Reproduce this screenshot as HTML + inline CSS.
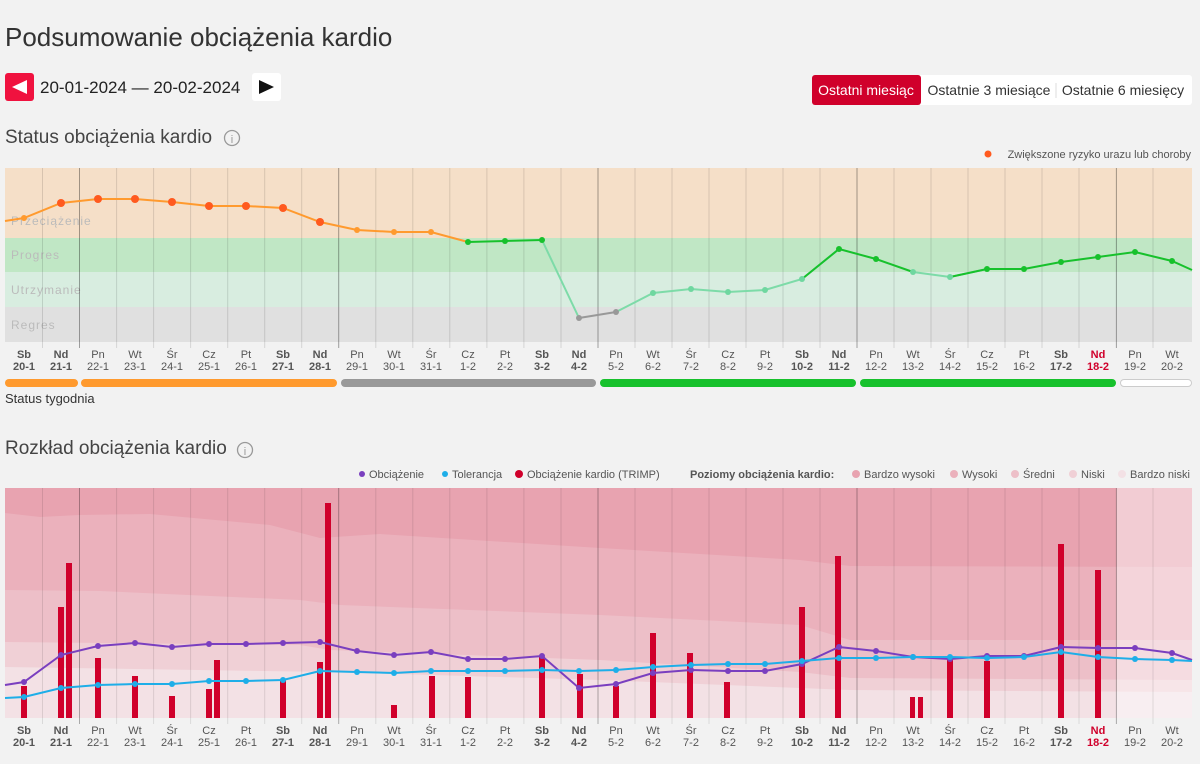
<!DOCTYPE html>
<html><head><meta charset="utf-8"><style>
body{margin:0;background:#f2f2f2;width:1200px;height:764px;overflow:hidden;font-family:"Liberation Sans",sans-serif;}
svg{position:absolute;left:0;top:0}
</style></head><body>
<svg width="1200" height="764" xmlns="http://www.w3.org/2000/svg" font-family="Liberation Sans, sans-serif">
<text x="5" y="46" font-size="26" fill="#333">Podsumowanie obciążenia kardio</text>
<rect x="5" y="73" width="29" height="28" rx="3" fill="#f0123f"/>
<polygon points="12,87 27,80 27,94" fill="#fff"/>
<text x="40" y="93" font-size="17" fill="#222">20-01-2024 — 20-02-2024</text>
<rect x="252" y="73" width="29" height="28" rx="3" fill="#fff"/>
<polygon points="259,80 274,87 259,94" fill="#111"/>
<rect x="812" y="75" width="380" height="30" rx="3" fill="#fff"/>
<rect x="812" y="75" width="109" height="30" rx="3" fill="#d0002b"/>
<text x="866" y="95" font-size="14" fill="#fff" text-anchor="middle">Ostatni miesiąc</text>
<text x="989" y="95" font-size="14" fill="#333" text-anchor="middle">Ostatnie 3 miesiące</text>
<line x1="1056" y1="83" x2="1056" y2="98" stroke="#ddd"/>
<text x="1123" y="95" font-size="14" fill="#333" text-anchor="middle">Ostatnie 6 miesięcy</text>
<text x="5" y="143" font-size="19" fill="#444">Status obciążenia kardio</text>
<circle cx="232" cy="138" r="7.5" fill="none" stroke="#999" stroke-width="1.3"/><text x="232" y="143" font-size="11" fill="#999" text-anchor="middle">i</text>
<circle cx="988" cy="154" r="3.5" fill="#ff5a1f"/>
<text x="1191" y="158" font-size="11" fill="#555" text-anchor="end">Zwiększone ryzyko urazu lub choroby</text>

<!-- top chart -->
<rect x="5" y="168" width="1187" height="70" fill="#f5dfc8"/>
<rect x="5" y="238" width="1187" height="34" fill="#c0e7c5"/>
<rect x="5" y="272" width="1187" height="35" fill="#d8ede0"/>
<rect x="5" y="307" width="1187" height="35" fill="#e0e0e0"/>
<g font-size="12" fill="#bbb" letter-spacing="1"><text x="11" y="225">Przeciążenie</text><text x="11" y="259">Progres</text><text x="11" y="294">Utrzymanie</text><text x="11" y="329">Regres</text></g>
<g id="gt" stroke="#000" stroke-opacity="0.12">
<line x1="42.5" y1="168" x2="42.5" y2="348"/><line x1="116.6" y1="168" x2="116.6" y2="348"/><line x1="153.6" y1="168" x2="153.6" y2="348"/><line x1="190.6" y1="168" x2="190.6" y2="348"/><line x1="227.7" y1="168" x2="227.7" y2="348"/><line x1="264.7" y1="168" x2="264.7" y2="348"/><line x1="301.7" y1="168" x2="301.7" y2="348"/><line x1="375.8" y1="168" x2="375.8" y2="348"/><line x1="412.8" y1="168" x2="412.8" y2="348"/><line x1="449.8" y1="168" x2="449.8" y2="348"/><line x1="486.9" y1="168" x2="486.9" y2="348"/><line x1="523.9" y1="168" x2="523.9" y2="348"/><line x1="561" y1="168" x2="561" y2="348"/><line x1="635" y1="168" x2="635" y2="348"/><line x1="672" y1="168" x2="672" y2="348"/><line x1="709" y1="168" x2="709" y2="348"/><line x1="746" y1="168" x2="746" y2="348"/><line x1="783" y1="168" x2="783" y2="348"/><line x1="820" y1="168" x2="820" y2="348"/><line x1="894" y1="168" x2="894" y2="348"/><line x1="931" y1="168" x2="931" y2="348"/><line x1="968" y1="168" x2="968" y2="348"/><line x1="1005" y1="168" x2="1005" y2="348"/><line x1="1042" y1="168" x2="1042" y2="348"/><line x1="1079" y1="168" x2="1079" y2="348"/><line x1="1153" y1="168" x2="1153" y2="348"/>
</g>
<g stroke="#000" stroke-opacity="0.35">
<line x1="79.5" y1="168" x2="79.5" y2="348"/><line x1="338.7" y1="168" x2="338.7" y2="348"/><line x1="598" y1="168" x2="598" y2="348"/><line x1="857" y1="168" x2="857" y2="348"/><line x1="1116.4" y1="168" x2="1116.4" y2="348"/>
</g>
<polyline fill="none" stroke="#ff9a2e" stroke-width="2" points="5,221 24,218 61,203 98,199 135,199 172,202 209,206 246,206 283,208 320,222 357,230 394,232 431,232 468,242"/>
<polyline fill="none" stroke="#17c12c" stroke-width="2" points="468,242 505,241 542,240"/>
<polyline fill="none" stroke="#7ddba8" stroke-width="2" points="542,240 579,318"/>
<polyline fill="none" stroke="#999" stroke-width="2" points="579,318 616,312"/>
<polyline fill="none" stroke="#7ddba8" stroke-width="2" points="616,312 653,293 691,289 728,292 765,290 802,279 839,249"/>
<polyline fill="none" stroke="#17c12c" stroke-width="2" points="802,279 839,249 876,259 913,272"/>
<polyline fill="none" stroke="#7ddba8" stroke-width="2" points="913,272 950,277 987,269"/>
<polyline fill="none" stroke="#17c12c" stroke-width="2" points="950,277 987,269 1024,269 1061,262 1098,257 1135,252 1172,261 1192,270"/>
<g fill="#ff9a2e"><circle cx="24" cy="218" r="3"/><circle cx="357" cy="230" r="3"/><circle cx="394" cy="232" r="3"/><circle cx="431" cy="232" r="3"/></g>
<g fill="#ff5a1f"><circle cx="61" cy="203" r="4"/><circle cx="98" cy="199" r="4"/><circle cx="135" cy="199" r="4"/><circle cx="172" cy="202" r="4"/><circle cx="209" cy="206" r="4"/><circle cx="246" cy="206" r="4"/><circle cx="283" cy="208" r="4"/><circle cx="320" cy="222" r="4"/></g>
<g fill="#17c12c"><circle cx="468" cy="242" r="3"/><circle cx="505" cy="241" r="3"/><circle cx="542" cy="240" r="3"/><circle cx="839" cy="249" r="3"/><circle cx="876" cy="259" r="3"/><circle cx="987" cy="269" r="3"/><circle cx="1024" cy="269" r="3"/><circle cx="1061" cy="262" r="3"/><circle cx="1098" cy="257" r="3"/><circle cx="1135" cy="252" r="3"/><circle cx="1172" cy="261" r="3"/></g>
<g fill="#999"><circle cx="579" cy="318" r="3"/><circle cx="616" cy="312" r="3"/></g>
<g fill="#6fd7a0"><circle cx="653" cy="293" r="3"/><circle cx="691" cy="289" r="3"/><circle cx="728" cy="292" r="3"/><circle cx="765" cy="290" r="3"/><circle cx="802" cy="279" r="3"/><circle cx="913" cy="272" r="3"/><circle cx="950" cy="277" r="3"/></g>

<g id="lab1" font-size="11" fill="#555" text-anchor="middle">
<g font-weight="bold"><text x="24" y="358">Sb</text><text x="24" y="370">20-1</text><text x="61" y="358">Nd</text><text x="61" y="370">21-1</text><text x="283" y="358">Sb</text><text x="283" y="370">27-1</text><text x="320" y="358">Nd</text><text x="320" y="370">28-1</text><text x="542" y="358">Sb</text><text x="542" y="370">3-2</text><text x="579" y="358">Nd</text><text x="579" y="370">4-2</text><text x="802" y="358">Sb</text><text x="802" y="370">10-2</text><text x="839" y="358">Nd</text><text x="839" y="370">11-2</text><text x="1061" y="358">Sb</text><text x="1061" y="370">17-2</text><text x="1098" y="358" fill="#d0002b">Nd</text><text x="1098" y="370" fill="#d0002b">18-2</text></g>
<text x="98" y="358">Pn</text><text x="98" y="370">22-1</text><text x="135" y="358">Wt</text><text x="135" y="370">23-1</text><text x="172" y="358">Śr</text><text x="172" y="370">24-1</text><text x="209" y="358">Cz</text><text x="209" y="370">25-1</text><text x="246" y="358">Pt</text><text x="246" y="370">26-1</text>
<text x="357" y="358">Pn</text><text x="357" y="370">29-1</text><text x="394" y="358">Wt</text><text x="394" y="370">30-1</text><text x="431" y="358">Śr</text><text x="431" y="370">31-1</text><text x="468" y="358">Cz</text><text x="468" y="370">1-2</text><text x="505" y="358">Pt</text><text x="505" y="370">2-2</text>
<text x="616" y="358">Pn</text><text x="616" y="370">5-2</text><text x="653" y="358">Wt</text><text x="653" y="370">6-2</text><text x="691" y="358">Śr</text><text x="691" y="370">7-2</text><text x="728" y="358">Cz</text><text x="728" y="370">8-2</text><text x="765" y="358">Pt</text><text x="765" y="370">9-2</text>
<text x="876" y="358">Pn</text><text x="876" y="370">12-2</text><text x="913" y="358">Wt</text><text x="913" y="370">13-2</text><text x="950" y="358">Śr</text><text x="950" y="370">14-2</text><text x="987" y="358">Cz</text><text x="987" y="370">15-2</text><text x="1024" y="358">Pt</text><text x="1024" y="370">16-2</text>
<text x="1135" y="358">Pn</text><text x="1135" y="370">19-2</text><text x="1172" y="358">Wt</text><text x="1172" y="370">20-2</text>
</g>
<g>
<rect x="5" y="379" width="73" height="8" rx="4" fill="#ff9a2e"/>
<rect x="81" y="379" width="256" height="8" rx="4" fill="#ff9a2e"/>
<rect x="341" y="379" width="255" height="8" rx="4" fill="#999"/>
<rect x="600" y="379" width="256" height="8" rx="4" fill="#17c12c"/>
<rect x="860" y="379" width="256" height="8" rx="4" fill="#17c12c"/>
<rect x="1120.5" y="379.5" width="71" height="7" rx="3.5" fill="#fff" stroke="#ccc"/>
</g>
<text x="5" y="403" font-size="13" fill="#333">Status tygodnia</text>

<text x="5" y="454" font-size="19" fill="#444">Rozkład obciążenia kardio</text>
<circle cx="245" cy="450" r="7.5" fill="none" stroke="#999" stroke-width="1.3"/><text x="245" y="455" font-size="11" fill="#999" text-anchor="middle">i</text>
<g font-size="11" fill="#555">
<circle cx="362" cy="474" r="3" fill="#7a3fbf"/><text x="369" y="478">Obciążenie</text>
<circle cx="445" cy="474" r="3" fill="#1eaee8"/><text x="452" y="478">Tolerancja</text>
<circle cx="519" cy="474" r="4" fill="#d0002b"/><text x="527" y="478">Obciążenie kardio (TRIMP)</text>
<text x="690" y="478" font-weight="bold">Poziomy obciążenia kardio:</text>
<circle cx="856" cy="474" r="4" fill="#e8a3b0"/><text x="864" y="478">Bardzo wysoki</text>
<circle cx="954" cy="474" r="4" fill="#ebb1bc"/><text x="962" y="478">Wysoki</text>
<circle cx="1015" cy="474" r="4" fill="#edbfc8"/><text x="1023" y="478">Średni</text>
<circle cx="1073" cy="474" r="4" fill="#f0d0d6"/><text x="1081" y="478">Niski</text>
<circle cx="1122" cy="474" r="4" fill="#f3e1e5"/><text x="1130" y="478">Bardzo niski</text>
</g>

<!-- bottom chart -->
<rect x="5" y="488" width="1187" height="230" fill="#e8a3b0"/>
<path d="M5,513 L40,517 L79,515 L150,514 L270,525 L320,538 L380,534 L600,548 L800,560 L850,566 L1192,567 L1192,718 L5,718Z" fill="#ebb1bc"/>
<path d="M5,590 L100,591 L300,600 L340,605 L600,615 L800,625 L850,640 L1192,640 L1192,718 L5,718Z" fill="#edbfc8"/>
<path d="M5,642 L300,645 L330,650 L600,660 L800,672 L850,678 L1192,680 L1192,718 L5,718Z" fill="#f0d0d6"/>
<path d="M5,667 L330,672 L600,680 L850,690 L1192,692 L1192,718 L5,718Z" fill="#f3e1e5"/>
<rect x="1116.5" y="488" width="75.5" height="230" fill="#fff" fill-opacity="0.45"/>
<g stroke="#000" stroke-opacity="0.1">
<line x1="42.5" y1="488" x2="42.5" y2="724"/><line x1="116.6" y1="488" x2="116.6" y2="724"/><line x1="153.6" y1="488" x2="153.6" y2="724"/><line x1="190.6" y1="488" x2="190.6" y2="724"/><line x1="227.7" y1="488" x2="227.7" y2="724"/><line x1="264.7" y1="488" x2="264.7" y2="724"/><line x1="301.7" y1="488" x2="301.7" y2="724"/><line x1="375.8" y1="488" x2="375.8" y2="724"/><line x1="412.8" y1="488" x2="412.8" y2="724"/><line x1="449.8" y1="488" x2="449.8" y2="724"/><line x1="486.9" y1="488" x2="486.9" y2="724"/><line x1="523.9" y1="488" x2="523.9" y2="724"/><line x1="561" y1="488" x2="561" y2="724"/><line x1="635" y1="488" x2="635" y2="724"/><line x1="672" y1="488" x2="672" y2="724"/><line x1="709" y1="488" x2="709" y2="724"/><line x1="746" y1="488" x2="746" y2="724"/><line x1="783" y1="488" x2="783" y2="724"/><line x1="820" y1="488" x2="820" y2="724"/><line x1="894" y1="488" x2="894" y2="724"/><line x1="931" y1="488" x2="931" y2="724"/><line x1="968" y1="488" x2="968" y2="724"/><line x1="1005" y1="488" x2="1005" y2="724"/><line x1="1042" y1="488" x2="1042" y2="724"/><line x1="1079" y1="488" x2="1079" y2="724"/><line x1="1153" y1="488" x2="1153" y2="724"/>
</g>
<g stroke="#000" stroke-opacity="0.3">
<line x1="79.5" y1="488" x2="79.5" y2="724"/><line x1="338.7" y1="488" x2="338.7" y2="724"/><line x1="598" y1="488" x2="598" y2="724"/><line x1="857" y1="488" x2="857" y2="724"/><line x1="1116.4" y1="488" x2="1116.4" y2="724"/>
</g>
<g fill="#d0002b">
<rect x="21" y="686" width="6" height="32"/><rect x="58" y="607" width="6" height="111"/><rect x="66" y="563" width="6" height="155"/><rect x="95" y="658" width="6" height="60"/><rect x="132" y="676" width="6" height="42"/><rect x="169" y="696" width="6" height="22"/><rect x="206" y="689" width="6" height="29"/><rect x="214" y="660" width="6" height="58"/><rect x="280" y="680" width="6" height="38"/><rect x="317" y="662" width="6" height="56"/><rect x="325" y="503" width="6" height="215"/><rect x="391" y="705" width="6" height="13"/><rect x="429" y="676" width="6" height="42"/><rect x="465" y="677" width="6" height="41"/><rect x="539" y="657" width="6" height="61"/><rect x="577" y="674" width="6" height="44"/><rect x="613" y="686" width="6" height="32"/><rect x="650" y="633" width="6" height="85"/><rect x="687" y="653" width="6" height="65"/><rect x="724" y="682" width="6" height="36"/><rect x="799" y="607" width="6" height="111"/><rect x="835" y="556" width="6" height="162"/><rect x="910" y="697" width="5" height="21"/><rect x="918" y="697" width="5" height="21"/><rect x="947" y="660" width="6" height="58"/><rect x="984" y="661" width="6" height="57"/><rect x="1058" y="544" width="6" height="174"/><rect x="1095" y="570" width="6" height="148"/>
</g>
<polyline fill="none" stroke="#7a3fbf" stroke-width="2" points="5,685 24,682 61,655 98,646 135,643 172,647 209,644 246,644 283,643 320,642 357,651 394,655 431,652 468,659 505,659 542,656 579,688 616,684 653,673 691,670 728,671 765,671 802,664 839,647 876,651 913,657 950,659 987,656 1024,656 1061,647 1098,648 1135,648 1172,653 1192,660"/>
<g fill="#7a3fbf"><circle cx="24" cy="682" r="3"/><circle cx="61" cy="655" r="3"/><circle cx="98" cy="646" r="3"/><circle cx="135" cy="643" r="3"/><circle cx="172" cy="647" r="3"/><circle cx="209" cy="644" r="3"/><circle cx="246" cy="644" r="3"/><circle cx="283" cy="643" r="3"/><circle cx="320" cy="642" r="3"/><circle cx="357" cy="651" r="3"/><circle cx="394" cy="655" r="3"/><circle cx="431" cy="652" r="3"/><circle cx="468" cy="659" r="3"/><circle cx="505" cy="659" r="3"/><circle cx="542" cy="656" r="3"/><circle cx="579" cy="688" r="3"/><circle cx="616" cy="684" r="3"/><circle cx="653" cy="673" r="3"/><circle cx="691" cy="670" r="3"/><circle cx="728" cy="671" r="3"/><circle cx="765" cy="671" r="3"/><circle cx="802" cy="664" r="3"/><circle cx="839" cy="647" r="3"/><circle cx="876" cy="651" r="3"/><circle cx="913" cy="657" r="3"/><circle cx="950" cy="659" r="3"/><circle cx="987" cy="656" r="3"/><circle cx="1024" cy="656" r="3"/><circle cx="1061" cy="647" r="3"/><circle cx="1098" cy="648" r="3"/><circle cx="1135" cy="648" r="3"/><circle cx="1172" cy="653" r="3"/></g>
<polyline fill="none" stroke="#1eaee8" stroke-width="2" points="5,698 24,697 61,688 98,685 135,684 172,684 209,681 246,681 283,680 320,671 357,672 394,673 431,671 468,671 505,671 542,670 579,671 616,670 653,667 691,665 728,664 765,664 802,661 839,658 876,658 913,657 950,657 987,658 1024,657 1061,652 1098,657 1135,659 1172,660 1192,661"/>
<g fill="#1eaee8"><circle cx="24" cy="697" r="3"/><circle cx="61" cy="688" r="3"/><circle cx="98" cy="685" r="3"/><circle cx="135" cy="684" r="3"/><circle cx="172" cy="684" r="3"/><circle cx="209" cy="681" r="3"/><circle cx="246" cy="681" r="3"/><circle cx="283" cy="680" r="3"/><circle cx="320" cy="671" r="3"/><circle cx="357" cy="672" r="3"/><circle cx="394" cy="673" r="3"/><circle cx="431" cy="671" r="3"/><circle cx="468" cy="671" r="3"/><circle cx="505" cy="671" r="3"/><circle cx="542" cy="670" r="3"/><circle cx="579" cy="671" r="3"/><circle cx="616" cy="670" r="3"/><circle cx="653" cy="667" r="3"/><circle cx="691" cy="665" r="3"/><circle cx="728" cy="664" r="3"/><circle cx="765" cy="664" r="3"/><circle cx="802" cy="661" r="3"/><circle cx="839" cy="658" r="3"/><circle cx="876" cy="658" r="3"/><circle cx="913" cy="657" r="3"/><circle cx="950" cy="657" r="3"/><circle cx="987" cy="658" r="3"/><circle cx="1024" cy="657" r="3"/><circle cx="1061" cy="652" r="3"/><circle cx="1098" cy="657" r="3"/><circle cx="1135" cy="659" r="3"/><circle cx="1172" cy="660" r="3"/></g>

<g font-size="11" fill="#555" text-anchor="middle">
<g font-weight="bold"><text x="24" y="734">Sb</text><text x="24" y="746">20-1</text><text x="61" y="734">Nd</text><text x="61" y="746">21-1</text><text x="283" y="734">Sb</text><text x="283" y="746">27-1</text><text x="320" y="734">Nd</text><text x="320" y="746">28-1</text><text x="542" y="734">Sb</text><text x="542" y="746">3-2</text><text x="579" y="734">Nd</text><text x="579" y="746">4-2</text><text x="802" y="734">Sb</text><text x="802" y="746">10-2</text><text x="839" y="734">Nd</text><text x="839" y="746">11-2</text><text x="1061" y="734">Sb</text><text x="1061" y="746">17-2</text><text x="1098" y="734" fill="#d0002b">Nd</text><text x="1098" y="746" fill="#d0002b">18-2</text></g>
<text x="98" y="734">Pn</text><text x="98" y="746">22-1</text><text x="135" y="734">Wt</text><text x="135" y="746">23-1</text><text x="172" y="734">Śr</text><text x="172" y="746">24-1</text><text x="209" y="734">Cz</text><text x="209" y="746">25-1</text><text x="246" y="734">Pt</text><text x="246" y="746">26-1</text>
<text x="357" y="734">Pn</text><text x="357" y="746">29-1</text><text x="394" y="734">Wt</text><text x="394" y="746">30-1</text><text x="431" y="734">Śr</text><text x="431" y="746">31-1</text><text x="468" y="734">Cz</text><text x="468" y="746">1-2</text><text x="505" y="734">Pt</text><text x="505" y="746">2-2</text>
<text x="616" y="734">Pn</text><text x="616" y="746">5-2</text><text x="653" y="734">Wt</text><text x="653" y="746">6-2</text><text x="691" y="734">Śr</text><text x="691" y="746">7-2</text><text x="728" y="734">Cz</text><text x="728" y="746">8-2</text><text x="765" y="734">Pt</text><text x="765" y="746">9-2</text>
<text x="876" y="734">Pn</text><text x="876" y="746">12-2</text><text x="913" y="734">Wt</text><text x="913" y="746">13-2</text><text x="950" y="734">Śr</text><text x="950" y="746">14-2</text><text x="987" y="734">Cz</text><text x="987" y="746">15-2</text><text x="1024" y="734">Pt</text><text x="1024" y="746">16-2</text>
<text x="1135" y="734">Pn</text><text x="1135" y="746">19-2</text><text x="1172" y="734">Wt</text><text x="1172" y="746">20-2</text>
</g>
</svg>
</body></html>
